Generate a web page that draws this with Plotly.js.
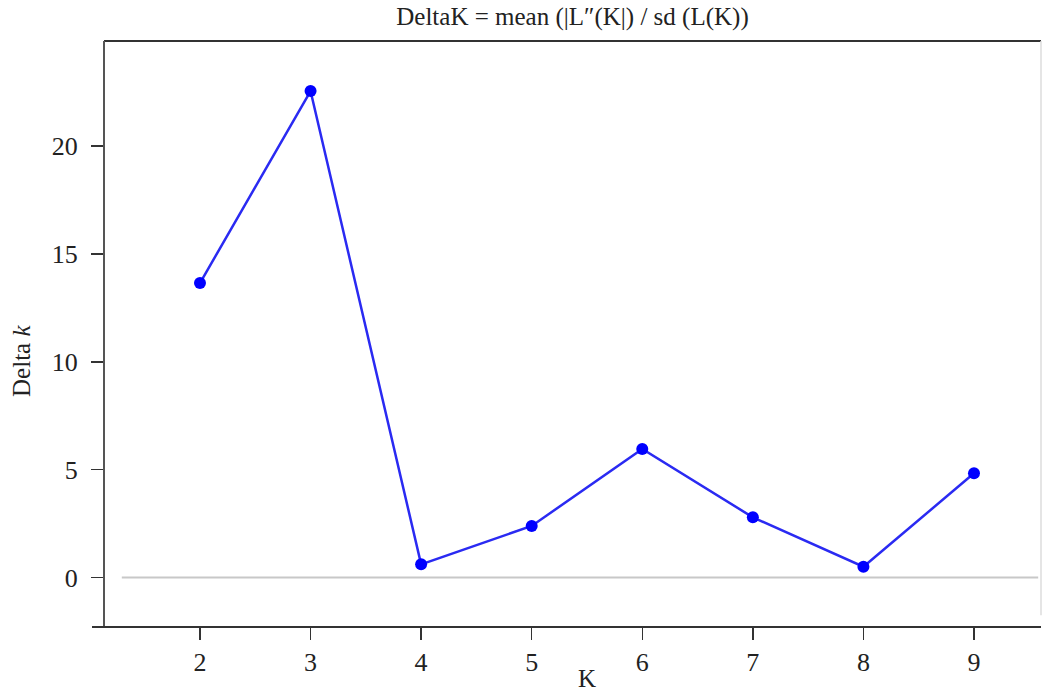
<!DOCTYPE html>
<html>
<head>
<meta charset="utf-8">
<script src="https://cdn.plot.ly/plotly-3.0.1.min.js"></script>
<style>html,body{margin:0;padding:0;background:#fff;}#chart{width:1042px;height:692px;}</style>
</head>
<body>
<div id="chart"></div>
<script>
const kValues = [2, 3, 4, 5, 6, 7, 8, 9];
const deltaK = [13.65, 22.55, 0.61, 2.39, 5.96, 2.79, 0.50, 4.83];
const xTicks = [2, 3, 4, 5, 6, 7, 8, 9];
const yTicks = [0, 5, 10, 15, 20];
const titleText = 'DeltaK = mean (|L″(K|) / sd (L(K))';
const xTitle = 'K';
const yTitle = 'Delta <i>k</i>';

const FONT = 'Liberation Serif, serif';
const AX = '#333333';

const trace = {
  x: kValues, y: deltaK, type: 'scatter', mode: 'lines+markers',
  line: {color: '#2a2af2', width: 2.5},
  marker: {color: '#0000ff', size: 12},
  hoverinfo: 'x+y'
};

const layout = {
  width: 1042, height: 692,
  margin: {l: 104, r: 1, t: 41, b: 65},
  paper_bgcolor: '#fff', plot_bgcolor: '#fff',
  showlegend: false,
  font: {family: FONT, size: 24, color: '#222'},
  title: {text: titleText, x: 0.5, xref: 'paper', y: 1, yref: 'container', yanchor: 'top', pad: {t: 7},
          font: {family: FONT, size: 25, color: '#222'}},
  xaxis: {range: [1.132, 9.606], tickvals: xTicks, ticktext: xTicks.map(String),
          ticks: 'outside', ticklen: 12, tickwidth: 1.5, tickcolor: AX,
          showgrid: false, zeroline: false, showline: false, ticklabelstandoff: 0,
          tickfont: {family: FONT, size: 26, color: '#222'}},
  yaxis: {range: [-2.294, 24.87], tickvals: yTicks, ticktext: yTicks.map(String),
          ticks: 'outside', ticklen: 12, tickwidth: 1.5, tickcolor: AX,
          showgrid: false, zeroline: false, showline: false, ticklabelstandoff: 8,
          tickfont: {family: FONT, size: 26, color: '#222'}},
  shapes: [
    {type: 'line', xref: 'paper', yref: 'y', x0: 0.019, x1: 0.997, y0: 0, y1: 0, line: {color: '#c8c8c8', width: 2}, layer: 'below'},
    {type: 'line', xref: 'paper', yref: 'paper', x0: 0, x1: 1, y0: 1, y1: 1, line: {color: AX, width: 2}},
    {type: 'line', xref: 'paper', yref: 'paper', x0: 0, x1: 0, y0: 0, y1: 1, line: {color: '#555', width: 2}},
    {type: 'line', xref: 'paper', yref: 'paper', x0: -0.0128, x1: 1, y0: 0, y1: 0, line: {color: AX, width: 2}},
    {type: 'line', xref: 'paper', yref: 'paper', x0: 1, x1: 1, y0: 0.02, y1: 1, line: {color: '#dddddd', width: 1.5}}
  ],
  annotations: [
    {text: xTitle, xref: 'paper', yref: 'paper', x: 0.516, y: 0, yshift: -51, yanchor: 'middle', showarrow: false,
     font: {family: FONT, size: 25, color: '#222'}},
    {text: yTitle, xref: 'paper', yref: 'paper', x: 0, xshift: -82, y: 0.454, textangle: -90, showarrow: false,
     xanchor: 'center', yanchor: 'middle', font: {family: FONT, size: 25, color: '#222'}}
  ]
};

Plotly.newPlot('chart', [trace], layout, {displayModeBar: false, staticPlot: true});
</script>
</body>
</html>
